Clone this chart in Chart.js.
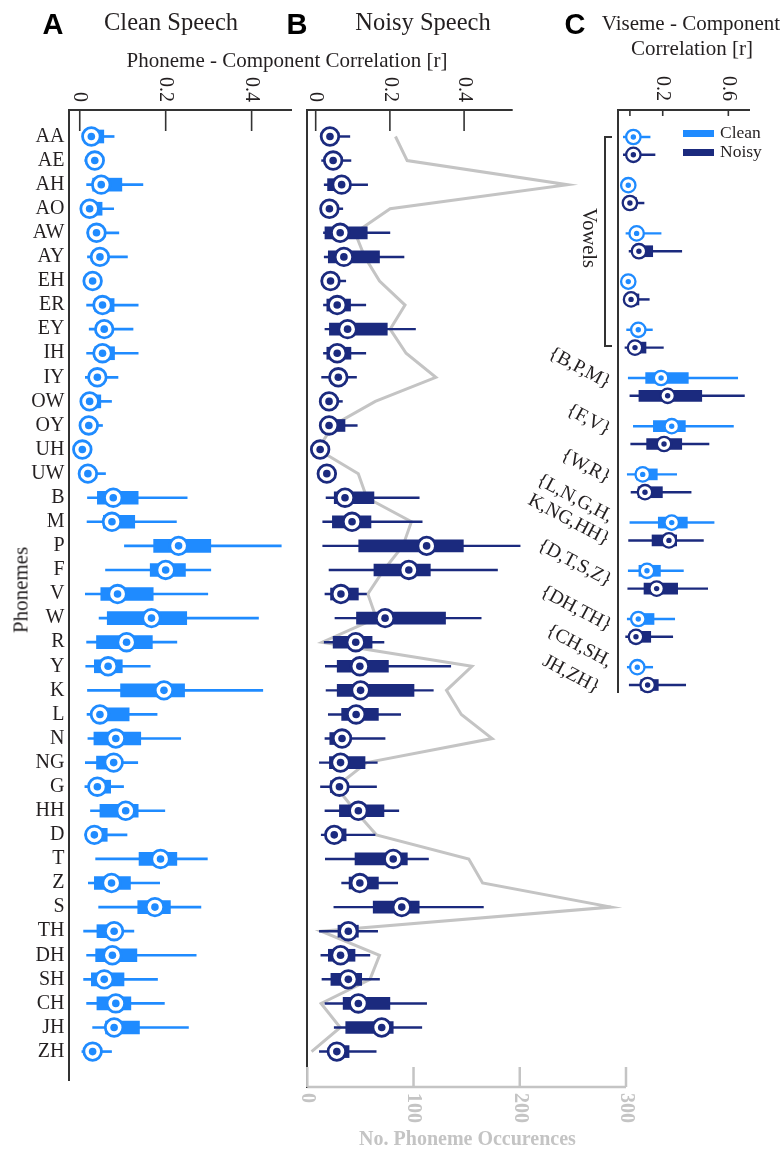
<!DOCTYPE html>
<html>
<head>
<meta charset="utf-8">
<script src="https://cdn.jsdelivr.net/npm/chart.js@4.4.1/dist/chart.umd.min.js"></script>
<style>
html,body{margin:0;padding:0;background:#fff;}
#wrap{position:relative;width:783px;height:1149px;overflow:hidden;font-family:'Liberation Serif',serif;color:#231f20;}
canvas{position:absolute;left:0;top:0;}
.t{position:absolute;white-space:nowrap;line-height:1;}
.c{transform:translate(-50%,-50%);}
.g{position:absolute;white-space:nowrap;line-height:1;font-size:19.5px;transform-origin:100% 50%;transform:translate(-100%,-50%) rotate(28deg);}
.ln{position:absolute;background:#333;}
</style>
</head>
<body>
<div id="wrap">
<canvas id="cA" width="783" height="1149"></canvas>
<canvas id="cB" width="783" height="1149"></canvas>
<canvas id="cC" width="783" height="1149"></canvas>

<div class="t c" style="left:53px;top:24px;font:bold 29px 'Liberation Sans',Arial,sans-serif;color:#000">A</div>
<div class="t c" style="left:171px;top:21.5px;font-size:24.5px">Clean Speech</div>
<div class="t c" style="left:297px;top:24px;font:bold 29px 'Liberation Sans',Arial,sans-serif;color:#000">B</div>
<div class="t c" style="left:423px;top:22px;font-size:24.5px">Noisy Speech</div>
<div class="t c" style="left:575px;top:24px;font:bold 29px 'Liberation Sans',Arial,sans-serif;color:#000">C</div>
<div class="t c" style="left:691px;top:23px;font-size:21px">Viseme - Component</div>
<div class="t c" style="left:692px;top:47.5px;font-size:21px">Correlation [r]</div>
<div class="t c" style="left:287px;top:59.5px;font-size:21px">Phoneme - Component Correlation [r]</div>
<div class="t" style="left:21px;top:590px;font-size:21px;transform:translate(-50%,-50%) rotate(-90deg)">Phonemes</div>
<div class="t c" style="left:467.5px;top:1138px;font-weight:bold;font-size:20px;color:#c4c4c4">No. Phoneme Occurences</div>

<div style="position:absolute;left:683px;top:130px;width:31px;height:6.5px;background:#1f8bff"></div>
<div class="t" style="left:720px;top:132.5px;transform:translateY(-50%);font-size:17.5px">Clean</div>
<div style="position:absolute;left:683px;top:149px;width:31px;height:6.5px;background:#1b2a7e"></div>
<div class="t" style="left:720px;top:152px;transform:translateY(-50%);font-size:17.5px">Noisy</div>

<div class="ln" style="left:604px;top:136px;width:2px;height:211px"></div>
<div class="ln" style="left:604px;top:136px;width:8px;height:2px"></div>
<div class="ln" style="left:604px;top:345px;width:8px;height:2px"></div>
<div class="t" style="left:590px;top:238px;font-size:20.5px;transform:translate(-50%,-50%) rotate(90deg)">Vowels</div>

<div class="g" style="left:610px;top:383px">{B,P,M}</div>
<div class="g" style="left:610px;top:430px">{F,V}</div>
<div class="g" style="left:610px;top:478px">{W,R}</div>
<div class="g" style="left:612px;top:517px">{L,N,G,H,</div>
<div class="g" style="left:609px;top:540px">K,NG,HH}</div>
<div class="g" style="left:611px;top:581px">{D,T,S,Z}</div>
<div class="g" style="left:611px;top:626px">{DH,TH}</div>
<div class="g" style="left:611px;top:662px">{CH,SH,</div>
<div class="g" style="left:599px;top:688px">JH,ZH}</div>
</div>

<script>
// ---------------- data ----------------
const phonemes = ['AA','AE','AH','AO','AW','AY','EH','ER','EY','IH','IY','OW','OY','UH','UW',
  'B','M','P','F','V','W','R','Y','K','L','N','NG','G',
  'HH','D','T','Z','S','TH','DH','SH','CH','JH','ZH'];

// Clean speech: phoneme-component correlation box plots
const cleanLow  = [0.012,0.012,0.016,0.005,0.017,0.018,0.012,0.016,0.022,0.016,0.013,0.005,0.005,-0.004,0.005,
  0.018,0.017,0.104,0.060,0.013,0.045,0.016,0.014,0.018,0.017,0.019,0.013,0.012,
  0.025,0.012,0.037,0.020,0.044,0.009,0.016,0.009,0.016,0.030,0.005];
const cleanQ1   = [0.015,0.022,0.030,0.012,0.028,0.030,0.020,0.035,0.040,0.035,0.028,0.012,0.010,0.000,0.010,
  0.041,0.055,0.172,0.164,0.049,0.064,0.039,0.034,0.095,0.035,0.033,0.039,0.030,
  0.047,0.025,0.138,0.034,0.135,0.040,0.037,0.027,0.040,0.060,0.015];
const cleanMed  = [0.027,0.035,0.050,0.023,0.039,0.047,0.030,0.053,0.057,0.053,0.041,0.023,0.021,0.006,0.019,
  0.078,0.075,0.230,0.200,0.088,0.167,0.109,0.066,0.196,0.047,0.084,0.079,0.041,
  0.107,0.034,0.188,0.074,0.175,0.080,0.076,0.057,0.084,0.080,0.030];
const cleanQ3   = [0.056,0.045,0.098,0.052,0.050,0.060,0.040,0.080,0.068,0.081,0.055,0.049,0.035,0.012,0.030,
  0.136,0.128,0.305,0.246,0.171,0.249,0.169,0.099,0.244,0.115,0.142,0.090,0.072,
  0.136,0.064,0.226,0.118,0.211,0.090,0.133,0.103,0.119,0.139,0.045];
const cleanHigh = [0.080,0.050,0.147,0.079,0.091,0.111,0.045,0.136,0.124,0.136,0.089,0.074,0.053,0.018,0.060,
  0.250,0.225,0.469,0.305,0.298,0.416,0.226,0.164,0.426,0.180,0.235,0.135,0.102,
  0.198,0.110,0.297,0.186,0.282,0.126,0.271,0.181,0.197,0.253,0.074];

// Noisy speech
const noisyLow  = [0.020,0.016,0.023,0.015,0.021,0.023,0.015,0.021,0.025,0.021,0.016,0.015,0.015,-0.005,0.012,
  0.028,0.019,0.019,0.036,0.025,0.052,0.023,0.026,0.028,0.034,0.025,0.010,0.013,
  0.025,0.015,0.026,0.070,0.049,0.010,0.014,0.017,0.025,0.050,0.010];
const noisyQ1   = [0.028,0.030,0.032,0.025,0.025,0.034,0.028,0.030,0.037,0.030,0.040,0.025,0.025,0.000,0.020,
  0.050,0.045,0.116,0.157,0.040,0.110,0.047,0.058,0.058,0.070,0.038,0.037,0.040,
  0.064,0.035,0.106,0.090,0.155,0.060,0.034,0.041,0.074,0.081,0.040];
const noisyMed  = [0.0385,0.047,0.070,0.037,0.066,0.076,0.040,0.058,0.086,0.058,0.061,0.036,0.036,0.012,0.030,
  0.079,0.098,0.299,0.251,0.068,0.187,0.108,0.119,0.121,0.109,0.071,0.067,0.064,
  0.115,0.050,0.209,0.119,0.232,0.088,0.067,0.088,0.115,0.178,0.057];
const noisyQ3   = [0.050,0.055,0.080,0.048,0.139,0.172,0.052,0.094,0.193,0.095,0.075,0.045,0.079,0.020,0.040,
  0.157,0.149,0.398,0.309,0.115,0.350,0.152,0.196,0.265,0.169,0.090,0.133,0.075,
  0.184,0.082,0.247,0.169,0.279,0.115,0.106,0.124,0.200,0.209,0.090];
const noisyHigh = [0.092,0.095,0.140,0.073,0.200,0.238,0.081,0.135,0.269,0.135,0.110,0.072,0.112,0.030,0.055,
  0.279,0.287,0.551,0.490,0.137,0.446,0.184,0.364,0.317,0.229,0.187,0.166,0.164,
  0.224,0.160,0.304,0.221,0.452,0.167,0.146,0.172,0.299,0.286,0.163];

// Number of phoneme occurrences (grey line)
const phonemeCounts = [83,94,245,78,45,54,68,92,78,93,121,64,24,10,48,
  56,98,90,72,57,65,14,155,131,145,174,56,27,
  45,65,152,165,286,13,68,59,13,31,4];

// Viseme groups (panel C)
const visemeGroups = ['Vowels 1','Vowels 2','Vowels 3','Vowels 4','Vowels 5',
  '{B,P,M}','{F,V}','{W,R}','{L,N,G,H,K,NG,HH}','{D,T,S,Z}','{DH,TH}','{CH,SH,JH,ZH}'];
const visCleanLow  = [-0.040,-0.030,-0.024,-0.030,-0.020,-0.010,0.021,-0.016,0.000,-0.010,-0.016,-0.016];
const visCleanQ1   = [-0.005,-0.020,0.020,-0.020,0.030,0.096,0.143,0.040,0.173,0.055,0.020,0.020];
const visCleanMed  = [0.021,-0.010,0.041,-0.010,0.051,0.190,0.255,0.078,0.255,0.104,0.051,0.045];
const visCleanQ3   = [0.040,0.005,0.060,0.005,0.070,0.356,0.338,0.167,0.350,0.186,0.147,0.070];
const visCleanHigh = [0.123,0.010,0.190,0.010,0.137,0.657,0.631,0.285,0.513,0.326,0.273,0.139];
const visNoisyLow  = [-0.040,-0.040,-0.005,-0.030,-0.030,0.000,0.005,0.007,-0.008,-0.013,-0.026,-0.004];
const visNoisyQ1   = [0.000,-0.010,0.020,-0.010,0.000,0.055,0.102,0.050,0.135,0.086,0.000,0.066];
const visNoisyMed  = [0.021,0.000,0.055,0.007,0.031,0.230,0.208,0.092,0.238,0.163,0.037,0.108];
const visNoisyQ3   = [0.050,0.040,0.139,0.055,0.098,0.438,0.316,0.198,0.285,0.291,0.127,0.173];
const visNoisyHigh = [0.153,0.086,0.316,0.118,0.204,0.698,0.482,0.373,0.448,0.474,0.261,0.340];

// axis ticks
const corrTicksAB = [0, 0.2, 0.4];
const corrTickLabelsAB = ['0', '0.2', '0.4'];
const corrTicksC = [0, 0.2, 0.6];
const corrTickLabelsC = ['', '0.2', '0.6'];
const countTicks = [0, 100, 200, 300];
const countTickLabels = ['0', '100', '200', '300'];

// ---------------- styles ----------------
const CLEAN = '#1f8bff';
const NOISY = '#1b2a7e';
const GREY = '#c4c4c4';
const AXIS = '#333333';
const TEXT = '#231f20';
Chart.defaults.font.family = "'Liberation Serif', 'Times New Roman', serif";

function boxSets(low, q1, med, q3, high, color, yOf, st) {
  const idx = low.map((_, i) => i);
  return [
    { type: 'bar', indexAxis: 'y', grouped: false, order: 6, clip: false,
      data: idx.map(i => ({ y: yOf(i), x: [low[i], high[i]] })),
      backgroundColor: color, borderWidth: 0, barThickness: st.whisker },
    { type: 'bar', indexAxis: 'y', grouped: false, order: 5, clip: false,
      data: idx.map(i => ({ y: yOf(i), x: [q1[i], q3[i]] })),
      backgroundColor: color, borderWidth: 0, barThickness: st.box },
    { type: 'scatter', order: 4, clip: false,
      data: idx.map(i => ({ x: med[i], y: yOf(i) })),
      pointRadius: st.ring, pointBorderWidth: st.ringW, pointBackgroundColor: '#ffffff',
      pointBorderColor: color, pointHoverRadius: st.ring },
    { type: 'scatter', order: 3, clip: false,
      data: idx.map(i => ({ x: med[i], y: yOf(i) })),
      pointRadius: st.dot, pointBorderWidth: 0, pointBackgroundColor: color,
      pointBorderColor: color, pointHoverRadius: st.dot }
  ];
}

const panelAxes = {
  id: 'panelAxes',
  afterDraw(chart, args, opts) {
    const { ctx, chartArea } = chart;
    (opts.axes || []).forEach(ax => {
      const sc = chart.scales[ax.scale];
      const y = ax.edge === 'top' ? chartArea.top : chartArea.bottom;
      const x0 = ax.from != null ? sc.getPixelForValue(ax.from) : chartArea.left;
      const x1 = ax.to != null ? sc.getPixelForValue(ax.to) : chartArea.right;
      ctx.save();
      ctx.strokeStyle = ax.color;
      ctx.lineWidth = ax.lineWidth;
      ctx.beginPath(); ctx.moveTo(x0, y); ctx.lineTo(x1, y); ctx.stroke();
      const dir = ax.edge === 'top' ? 1 : -1;
      ctx.lineWidth = ax.tickWidth;
      ax.ticks.forEach((v, k) => {
        const x = sc.getPixelForValue(v);
        ctx.beginPath(); ctx.moveTo(x, y); ctx.lineTo(x, y + dir * ax.tickLen); ctx.stroke();
        const lab = ax.labels[k];
        if (!lab) return;
        ctx.save();
        ctx.translate(x, y - dir * ax.labelGap);
        ctx.rotate(Math.PI / 2);
        ctx.font = ax.font;
        ctx.fillStyle = ax.labelColor;
        ctx.textAlign = ax.edge === 'top' ? 'right' : 'left';
        ctx.textBaseline = 'middle';
        ctx.fillText(lab, 0, 0);
        ctx.restore();
      });
      ctx.restore();
    });
  }
};

const common = {
  responsive: false,
  animation: false,
  indexAxis: 'y',
  events: [],
  plugins: { legend: { display: false }, tooltip: { enabled: false } }
};

const rowStyle = { whisker: 2, box: 13, ring: 8.8, ringW: 2.8, dot: 3.8 };
const rowStyleB = { whisker: 1.8, box: 12, ring: 8.8, ringW: 2.8, dot: 3.8 };

// ---------------- Panel A ----------------
new Chart(document.getElementById('cA'), {
  type: 'bar',
  data: { datasets: boxSets(cleanLow, cleanQ1, cleanMed, cleanQ3, cleanHigh, CLEAN, i => i, rowStyle) },
  options: Object.assign({}, common, {
    layout: { padding: { left: 0, right: 491, top: 110, bottom: 69 } },
    scales: {
      x: { type: 'linear', min: -0.025, max: 0.494, display: false, offset: false },
      y: { type: 'linear', position: 'left', reverse: true, min: -1.1, max: 39.18, offset: false,
        afterBuildTicks: s => { s.ticks = phonemes.map((p, i) => ({ value: i })); },
        afterFit: s => { s.width = 69; },
        ticks: { callback: v => phonemes[v] ?? '', autoSkip: false, minRotation: 0, maxRotation: 0,
          padding: 4.5, color: TEXT, font: { size: 20 } },
        grid: { display: false, drawTicks: false },
        border: { display: true, color: AXIS, width: 2 } }
    },
    plugins: Object.assign({}, common.plugins, {
      panelAxes: { axes: [ { scale: 'x', edge: 'top', ticks: corrTicksAB, labels: corrTickLabelsAB,
        tickLen: 21, labelGap: 8, color: AXIS, lineWidth: 2, tickWidth: 1.6,
        font: "20px 'Liberation Serif'", labelColor: TEXT } ] }
    })
  }),
  plugins: [panelAxes]
});

// ---------------- Panel B ----------------
const dsB = boxSets(noisyLow, noisyQ1, noisyMed, noisyQ3, noisyHigh, NOISY, i => i, rowStyleB);
dsB.push({ type: 'line', xAxisID: 'xc', yAxisID: 'y', order: 10, clip: false,
  data: phonemeCounts.map((c, i) => ({ x: c, y: i })),
  borderColor: GREY, borderWidth: 3, pointRadius: 0, fill: false, tension: 0 });

new Chart(document.getElementById('cB'), {
  type: 'bar',
  data: { datasets: dsB },
  options: Object.assign({}, common, {
    layout: { padding: { left: 307.3, right: 270.3, top: 110, bottom: 62 } },
    scales: {
      x: { type: 'linear', min: -0.0226, max: 0.531, display: false, offset: false },
      xc: { type: 'linear', axis: 'x', min: 0, max: 193.35, display: false, offset: false },
      y: { type: 'linear', position: 'left', reverse: true, min: -1.1, max: 39.47, offset: false,
        afterFit: s => { s.width = 0; },
        ticks: { display: false },
        grid: { display: false, drawTicks: false },
        border: { display: true, color: AXIS, width: 2 } }
    },
    plugins: Object.assign({}, common.plugins, {
      panelAxes: { axes: [
        { scale: 'x', edge: 'top', ticks: corrTicksAB, labels: corrTickLabelsAB,
          tickLen: 21, labelGap: 8, color: AXIS, lineWidth: 2, tickWidth: 1.6,
          font: "20px 'Liberation Serif'", labelColor: TEXT },
        { scale: 'xc', edge: 'bottom', from: 0, to: 300, ticks: countTicks, labels: countTickLabels,
          tickLen: 20, labelGap: 6, color: GREY, lineWidth: 2.5, tickWidth: 2.5,
          font: "bold 20px 'Liberation Serif'", labelColor: GREY }
      ] }
    })
  }),
  plugins: [panelAxes]
});

// ---------------- Panel C ----------------
const pairOffset = 0.185;
const visStyle = { whisker: 1.8, box: 11, ring: 7.2, ringW: 2.3, dot: 2.7 };
const dsC = []
  .concat(boxSets(visCleanLow, visCleanQ1, visCleanMed, visCleanQ3, visCleanHigh, CLEAN, i => i - pairOffset, visStyle))
  .concat(boxSets(visNoisyLow, visNoisyQ1, visNoisyMed, visNoisyQ3, visNoisyHigh, NOISY, i => i + pairOffset, visStyle));

new Chart(document.getElementById('cC'), {
  type: 'bar',
  data: { datasets: dsC },
  options: Object.assign({}, common, {
    layout: { padding: { left: 617.7, right: 33, top: 110, bottom: 457 } },
    scales: {
      x: { type: 'linear', min: -0.0744, max: 0.732, display: false, offset: false },
      y: { type: 'linear', position: 'left', reverse: true, min: -0.745, max: 11.33, offset: false,
        afterFit: s => { s.width = 0; },
        ticks: { display: false },
        grid: { display: false, drawTicks: false },
        border: { display: true, color: AXIS, width: 2 } }
    },
    plugins: Object.assign({}, common.plugins, {
      panelAxes: { axes: [ { scale: 'x', edge: 'top', ticks: corrTicksC, labels: corrTickLabelsC,
        tickLen: 6, labelGap: 9, color: AXIS, lineWidth: 2, tickWidth: 1.6,
        font: "20px 'Liberation Serif'", labelColor: TEXT } ] }
    })
  }),
  plugins: [panelAxes]
});
</script>
</body>
</html>
